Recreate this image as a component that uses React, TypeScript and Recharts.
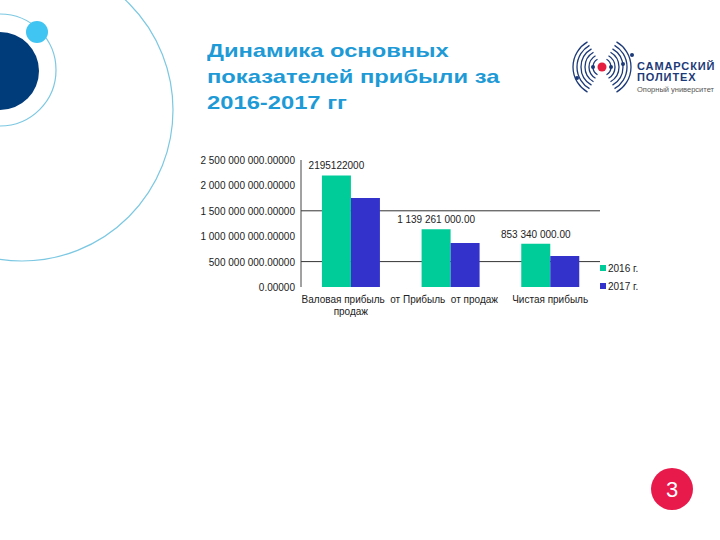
import React from "react";
import { BarChart, Bar, XAxis, YAxis, Legend, CartesianGrid, LabelList } from "recharts";

const categories = ["Валовая прибыль  от продаж", "Прибыль  от продаж", "Чистая прибыль"];
const values2016 = [2195122000, 1139261000, 853340000];
const values2017 = [1752000000, 866000000, 610000000];
const labels2016 = ["2195122000", "1 139 261 000.00", "853 340 000.00"];
const yTicks = [0, 500000000, 1000000000, 1500000000, 2000000000, 2500000000];
const gridValues = [500000000, 1500000000];

const seriesNames = ["2016 г.", "2017 г."];
const GREEN = "#00cc99";
const BLUE = "#3333cc";
const FONT = "'Liberation Sans', Arial, sans-serif";

const data = categories.map((name, i) => ({
  name,
  y2016: values2016[i],
  y2017: values2017[i],
  label: labels2016[i],
}));

function fmtY(v: number) {
  const [int, dec] = v.toFixed(5).split(".");
  return int.replace(/\B(?=(\d{3})+(?!\d))/g, " ") + "." + dec;
}

// wraps a category label into lines of at most ~20 chars
function wrap(text: string, maxChars: number) {
  const words = text.split(" ");
  const lines: string[] = [];
  let cur = "";
  words.forEach((w) => {
    const next = cur === "" ? w : cur + " " + w;
    if (next.length > maxChars && cur !== "") {
      lines.push(cur);
      cur = w;
    } else cur = next;
  });
  if (cur) lines.push(cur);
  return lines;
}

const XTick = (props: any) => {
  const { x, y, payload } = props;
  const lines = wrap(payload.value, 20);
  return (
    <text x={x} y={y + 8} textAnchor="middle" fontSize={10} fill="#222" fontFamily={FONT}>
      {lines.map((l, i) => (
        <tspan key={i} x={x} dy={i === 0 ? 0 : 12} style={{ whiteSpace: "pre" }}>
          {l}
        </tspan>
      ))}
    </text>
  );
};

const YTick = (props: any) => {
  const { x, y, payload } = props;
  return (
    <text x={x + 6} y={y + 4} textAnchor="end" fontSize={10} fill="#222" fontFamily={FONT}>
      {fmtY(payload.value)}
    </text>
  );
};

const BarLabel = (props: any) => {
  const { x, y, width, value } = props;
  return (
    <text x={x + width / 2} y={y - 6} textAnchor="middle" fontSize={10} fill="#222" fontFamily={FONT}>
      {value}
    </text>
  );
};

const LegendBox = () => (
  <div style={{ fontFamily: FONT, fontSize: 10, color: "#222" }}>
    {seriesNames.map((n, i) => (
      <div key={n} style={{ display: "flex", alignItems: "center", height: 18 }}>
        <span style={{ width: 6, height: 6, background: i === 0 ? GREEN : BLUE, marginRight: 2 }} />
        {n}
      </div>
    ))}
  </div>
);

function Decor() {
  return (
    <svg width={720} height={540} style={{ position: "absolute", left: 0, top: 0 }}>
      <circle cx={22} cy={110} r={151} fill="none" stroke="#7cc8e2" strokeWidth={1.2} />
      <circle cx={0} cy={70} r={56} fill="none" stroke="#7cc8e2" strokeWidth={1.2} />
      <circle cx={0} cy={71} r={39} fill="#003b7a" />
      <circle cx={37} cy={32} r={11} fill="#40c4f2" />
      {/* logo */}
      <g fill="none" stroke="#1d3a78" strokeWidth={1.3}>
        {[9, 13, 17, 21, 25, 29].map((r) => (
          <g key={r}>
            <path d={`M ${602 - r * 0.5} ${67 - r * 0.866} A ${r} ${r} 0 0 0 ${602 - r * 0.5} ${67 + r * 0.866}`} />
            <path d={`M ${602 + r * 0.5} ${67 - r * 0.866} A ${r} ${r} 0 0 1 ${602 + r * 0.5} ${67 + r * 0.866}`} />
          </g>
        ))}
      </g>
      <circle cx={602} cy={67} r={4.5} fill="#e41e3f" />
      <circle cx={593} cy={67} r={2} fill="#1d3a78" />
      <circle cx={611} cy={67} r={2} fill="#1d3a78" />
      <circle cx={623} cy={64} r={2} fill="#1d3a78" />
      <circle cx={632} cy={55} r={2} fill="#1d3a78" />
      <circle cx={577} cy={78} r={2} fill="#1d3a78" />
      <text x={637} y={70} fontFamily={FONT} fontWeight="bold" fontSize={11} fill="#1d3a78" letterSpacing={0.9}>
        САМАРСКИЙ
      </text>
      <text x={637} y={81} fontFamily={FONT} fontWeight="bold" fontSize={11} fill="#1d3a78" letterSpacing={0.9}>
        ПОЛИТЕХ
      </text>
      <text x={637} y={92} fontFamily={FONT} fontSize={7.5} fill="#555">
        Опорный университет
      </text>
      <circle cx={672} cy={489} r={21} fill="#e8194b" />
      <text x={672} y={497} textAnchor="middle" fontFamily={FONT} fontSize={22} fill="#fff">
        3
      </text>
    </svg>
  );
}

export default function App() {
  return (
    <div style={{ position: "absolute", left: 0, top: 0, width: 720, height: 540, background: "#fff", overflow: "hidden" }}>
      <Decor />
      <div
        style={{
          position: "absolute",
          left: 207,
          top: 38,
          fontFamily: FONT,
          fontWeight: "bold",
          fontSize: 19,
          lineHeight: "26px",
          color: "#1e9ad6",
          transform: "scaleX(1.25)",
          transformOrigin: "left top",
          whiteSpace: "nowrap",
        }}
      >
        Динамика основных
        <br />
        показателей прибыли за
        <br />
        2016-2017 гг
      </div>
      <div style={{ position: "absolute", left: 190, top: 140 }}>
        <BarChart
          width={470}
          height={190}
          data={data}
          margin={{ top: 20, right: 0, bottom: 13, left: 0 }}
          barCategoryGap="21%"
          barGap={0}
        >
          <CartesianGrid vertical={false} horizontalValues={gridValues} stroke="#333" />
          <XAxis dataKey="name" axisLine={false} tickLine={false} tick={<XTick />} height={30} interval={0} />
          <YAxis
            width={111}
            domain={[0, 2500000000]}
            ticks={yTicks}
            axisLine={{ stroke: "#444" }}
            tickLine={false}
            tickMargin={6}
            tick={<YTick />}
          />
          <Legend
            layout="vertical"
            align="right"
            verticalAlign="top"
            content={<LegendBox />}
            wrapperStyle={{ left: 410, top: 119, width: 60 }}
          />
          <Bar dataKey="y2016" name={seriesNames[0]} fill={GREEN} isAnimationActive={false}>
            <LabelList dataKey="label" content={<BarLabel />} />
          </Bar>
          <Bar dataKey="y2017" name={seriesNames[1]} fill={BLUE} isAnimationActive={false} />
        </BarChart>
      </div>
    </div>
  );
}
